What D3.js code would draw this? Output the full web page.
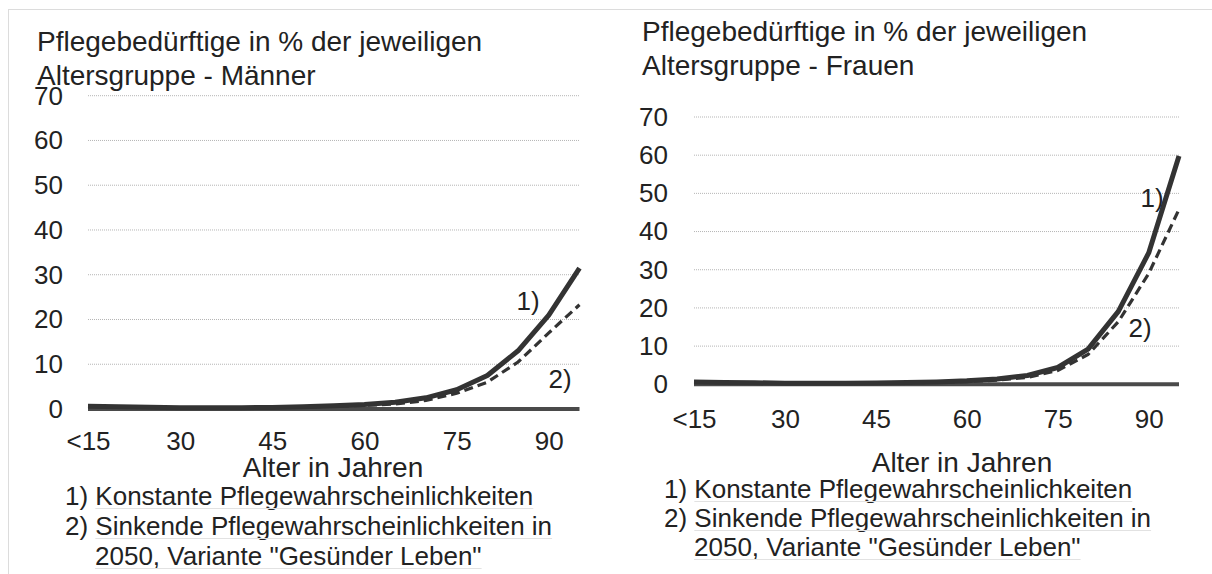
<!DOCTYPE html>
<html><head><meta charset="utf-8">
<script src="https://cdn.jsdelivr.net/npm/d3@7"></script>
<style>
html,body{margin:0;padding:0;background:#fff;}
svg{display:block;font-family:"Liberation Sans",Arial,sans-serif;}
</style></head>
<body>
<svg id="chart" width="1212" height="574"></svg>
<script>
// ---- data ----
const ageCategories = ["<15","20","25","30","35","40","45","50","55","60","65","70","75","80","85","90","95"];
const xTickLabels = ["<15","30","45","60","75","90"];
const yTickValues = [0,10,20,30,40,50,60,70];
const menConstant = [0.6,0.5,0.4,0.3,0.3,0.3,0.35,0.5,0.7,1.0,1.5,2.5,4.3,7.5,13.0,21.0,31.5];
const menHealthy  = [0.6,0.5,0.4,0.3,0.3,0.3,0.35,0.45,0.6,0.8,1.1,1.9,3.5,6.0,10.5,17.0,23.3];
const womenConstant = [0.6,0.5,0.4,0.3,0.3,0.3,0.35,0.45,0.6,0.9,1.4,2.3,4.4,9.2,19.1,34.4,59.8];
const womenHealthy  = [0.6,0.5,0.4,0.3,0.3,0.3,0.35,0.4,0.5,0.7,1.1,1.8,3.6,7.8,16.4,29.0,45.8];
const titlesMen = ["Pflegebedürftige in % der jeweiligen","Altersgruppe - Männer"];
const titlesWomen = ["Pflegebedürftige in % der jeweiligen","Altersgruppe - Frauen"];
const xAxisTitle = "Alter in Jahren";
const legendLines = [["1) ","Konstante Pflegewahrscheinlichkeiten"],["2) ","Sinkende Pflegewahrscheinlichkeiten in"],["","2050, Variante \"Gesünder Leben\""]];
const seriesLabels = ["1)","2)"];

const svg = d3.select("#chart");
// frame lines
svg.append("line").attr("x1",8).attr("x2",1212).attr("y1",9.5).attr("y2",9.5).attr("stroke","#dcdcdc").attr("stroke-width",1);
svg.append("line").attr("x1",8.5).attr("x2",8.5).attr("y1",9).attr("y2",574).attr("stroke","#dcdcdc").attr("stroke-width",1);

const panels = [
  {titles:titlesMen, constant:menConstant, healthy:menHealthy,
   x0:88, x1:579.5, y0:409, y70:95.7, titleX:37, titleY:[51,85], yLabelX:63,
   xLabelY:450, axisTitleX:333, axisTitleY:477, legendX:65, legendY:[505,535,565], legendIndent:30,
   lab1:[528,310], lab2:[560,388]},
  {titles:titlesWomen, constant:womenConstant, healthy:womenHealthy,
   x0:694, x1:1179, y0:384.3, y70:117, titleX:642, titleY:[41,75], yLabelX:668,
   xLabelY:428, axisTitleX:962, axisTitleY:472, legendX:664, legendY:[498,527,556], legendIndent:30,
   lab1:[1152,207], lab2:[1140,337]}
];

panels.forEach(p => {
  const g = svg.append("g");
  const x = d3.scalePoint().domain(ageCategories).range([p.x0,p.x1]);
  const y = d3.scaleLinear().domain([0,70]).range([p.y0,p.y70]);

  // gridlines
  g.selectAll(".grid").data(yTickValues.filter(v=>v>0)).enter().append("line")
    .attr("x1",p.x0).attr("x2",p.x1).attr("y1",d=>y(d)).attr("y2",d=>y(d))
    .attr("stroke","#b5b5b5").attr("stroke-width",1).attr("stroke-dasharray","1,1");

  // y axis
  const ya = g.append("g").attr("transform",`translate(${p.yLabelX},0)`)
    .call(d3.axisLeft(y).tickValues(yTickValues).tickSize(0).tickPadding(0).tickFormat(d3.format("d")));
  ya.select(".domain").remove();
  ya.selectAll("text").attr("font-size",26).attr("fill","#222").attr("font-family","Liberation Sans, Arial, sans-serif");

  // x axis labels
  const xa = g.append("g").attr("transform",`translate(0,${p.xLabelY})`)
    .call(d3.axisBottom(x).tickValues(xTickLabels).tickSize(0).tickPadding(0));
  xa.select(".domain").remove();
  xa.selectAll("text").attr("font-size",26).attr("fill","#222").attr("dy",0).attr("font-family","Liberation Sans, Arial, sans-serif");

  // baseline
  g.append("line").attr("x1",p.x0).attr("x2",p.x1).attr("y1",y(0)).attr("y2",y(0))
    .attr("stroke","#4a4a4a").attr("stroke-width",4);

  const line = d3.line().x((d,i)=>x(ageCategories[i])).y(d=>y(d));
  g.append("path").datum(p.healthy).attr("d",line).attr("fill","none")
    .attr("stroke","#333").attr("stroke-width",3.2).attr("stroke-dasharray","9,5");
  g.append("path").datum(p.constant).attr("d",line).attr("fill","none")
    .attr("stroke","#333").attr("stroke-width",5).attr("stroke-linejoin","round");

  // series labels
  g.append("text").attr("x",p.lab1[0]).attr("y",p.lab1[1]).attr("font-size",26).attr("text-anchor","middle").attr("fill","#222").text(seriesLabels[0]);
  g.append("text").attr("x",p.lab2[0]).attr("y",p.lab2[1]).attr("font-size",26).attr("text-anchor","middle").attr("fill","#222").text(seriesLabels[1]);

  // titles
  p.titles.forEach((t,i)=>{
    g.append("text").attr("x",p.titleX).attr("y",p.titleY[i]).attr("font-size",28).attr("fill","#222").text(t);
  });

  // axis title
  g.append("text").attr("x",p.axisTitleX).attr("y",p.axisTitleY).attr("font-size",28).attr("text-anchor","middle").attr("fill","#222").text(xAxisTitle);

  // legend
  legendLines.forEach((l,i)=>{
    const lx = p.legendX + (i===2?p.legendIndent:0);
    const t = g.append("text").attr("x",lx).attr("y",p.legendY[i]).attr("font-size",26).attr("fill","#222");
    if(l[0]) t.append("tspan").text(l[0]);
    const sp = t.append("tspan").text(l[1]);
    // faint underline
    const full = t.node().getComputedTextLength();
    const main = sp.node().getComputedTextLength();
    const sx = lx + (full-main);
    g.append("line").attr("x1",sx).attr("x2",sx+main).attr("y1",p.legendY[i]+3.5).attr("y2",p.legendY[i]+3.5)
      .attr("stroke","#e2e2e2").attr("stroke-width",1);
  });
});
</script>
</body></html>
